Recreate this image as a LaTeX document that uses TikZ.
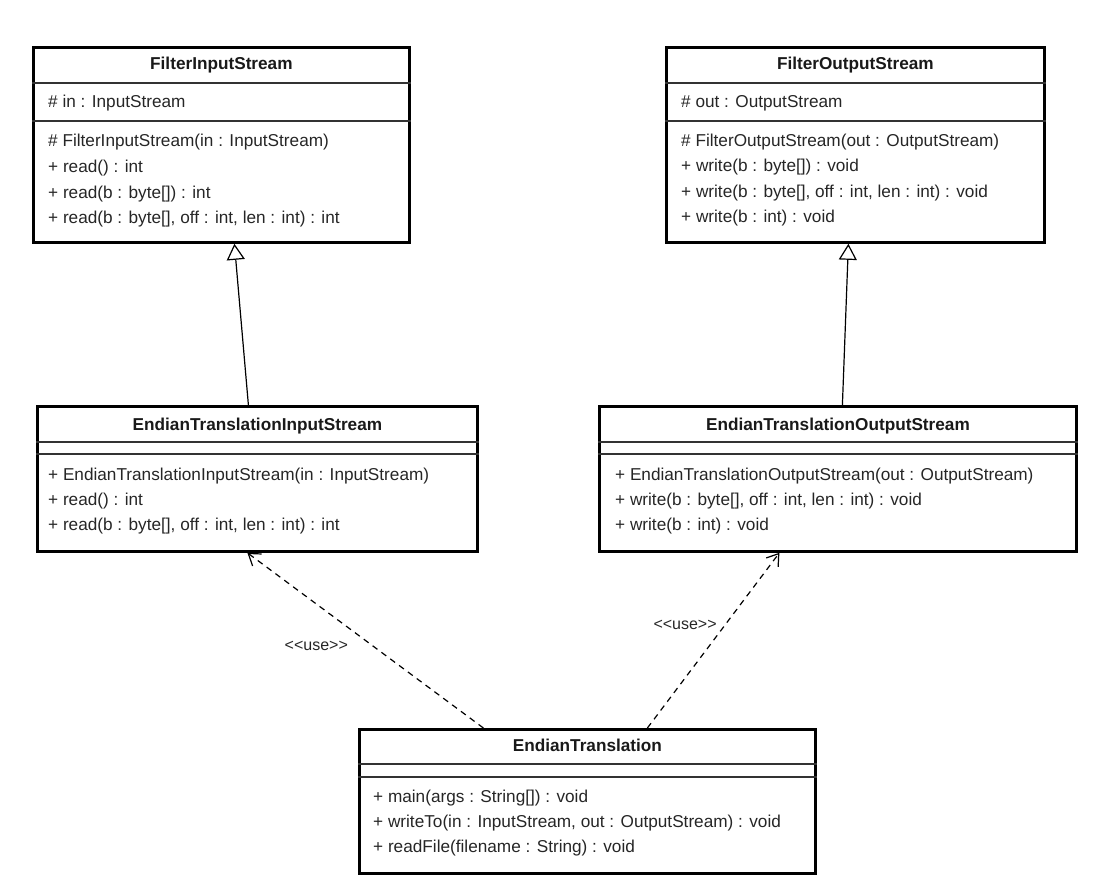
\documentclass[tikz,border=0pt]{standalone}
\usepackage{fontspec}
\setmainfont{Liberation Sans}
\usepackage{tikz}
\usetikzlibrary{calc, arrows.meta}

\tikzset{
classbox/.style={draw, line width=2.8pt, inner sep=0pt, anchor=north west},
divider/.style={draw, black!80, line width=1.4pt},
classname/.style={inner sep=0pt, text height=12.5pt, text depth=3.5pt, text=black!90, font=\fontsize{17.2}{20}\selectfont\bfseries},
member/.style={anchor=west, inner sep=0pt, text height=12.5pt, text depth=3.5pt, text=black!85, font=\fontsize{17.2}{20}\selectfont},
stereo/.style={inner sep=0pt, text=black!85, font=\fontsize{16}{18}\selectfont},
inherit/.style={line width=1.2pt, -{Triangle[open, length=16pt, width=18pt]}},
uses/.style={line width=1.2pt, dash pattern=on 6pt off 5pt, -{Straight Barb[length=11pt, width=15pt]}},
}

\begin{document}
\begin{tikzpicture}[x=1pt, y=-1pt]
\useasboundingbox (0,0) rectangle (1105,889);
					%%
\coordinate (fisNW) at (32,46);
\coordinate (fosNW) at (665,46);
\coordinate (eisNW) at (36,405);
\coordinate (eosNW) at (598,405);
\coordinate (etNW) at (358,728);

\node[classbox, minimum width=376pt, minimum height=195pt] (fis) at (fisNW) {};
\node[classbox, minimum width=378pt, minimum height=195pt] (fos) at (fosNW) {};
\node[classbox, minimum width=440pt, minimum height=145pt] (eis) at (eisNW) {};
\node[classbox, minimum width=477pt, minimum height=145pt] (eos) at (eosNW) {};
\node[classbox, minimum width=456pt, minimum height=144pt] (et) at (etNW) {};

\foreach \c/\a/\b in {fis/37/75, fos/37/75, eis/37/49, eos/37/49, et/36/49}
{
\draw[divider] ($(\c.north west)+(0,\a)$) -- ($(\c.north east)+(0,\a)$);
\draw[divider] ($(\c.north west)+(0,\b)$) -- ($(\c.north east)+(0,\b)$);
}

\node[classname] (fisName) at ($(fis.north)+(0,19)$) {FilterInputStream};
\node[classname] (fosName) at ($(fos.north)+(0,19)$) {FilterOutputStream};
\node[classname] (eisName) at ($(eis.north)+(0,21)$) {EndianTranslationInputStream};
\node[classname] (eosName) at ($(eos.north)+(0,21)$) {EndianTranslationOutputStream};
\node[classname] (etName) at ($(et.north)+(0,19)$) {EndianTranslation};

\node[member] (fisIn) at ($(fis.north west)+(16,57)$) {\# in : InputStream};
\node[member] (fosOut) at ($(fos.north west)+(16,57)$) {\# out : OutputStream};

\foreach \t [count=\i from 0] in {{\# FilterInputStream(in : InputStream)}, {+ read() : int}, {+ read(b : byte[]) : int}, {+ read(b : byte[], off : int, len : int) : int}}
\node[member] (fisOp\i) at ($(fis.north west)+(16,96+25.8*\i)$) {\t};

\foreach \t [count=\i from 0] in {{\# FilterOutputStream(out : OutputStream)}, {+ write(b : byte[]) : void}, {+ write(b : byte[], off : int, len : int) : void}, {+ write(b : int) : void}}
\node[member] (fosOp\i) at ($(fos.north west)+(16,96+25.3*\i)$) {\t};

\foreach \t [count=\i from 0] in {{+ EndianTranslationInputStream(in : InputStream)}, {+ read() : int}, {+ read(b : byte[], off : int, len : int) : int}}
\node[member] (eisOp\i) at ($(eis.north west)+(12,71+25*\i)$) {\t};

\foreach \t [count=\i from 0] in {{+ EndianTranslationOutputStream(out : OutputStream)}, {+ write(b : byte[], off : int, len : int) : void}, {+ write(b : int) : void}}
\node[member] (eosOp\i) at ($(eos.north west)+(17,71+25*\i)$) {\t};

\foreach \t [count=\i from 0] in {{+ main(args : String[]) : void}, {+ writeTo(in : InputStream, out : OutputStream) : void}, {+ readFile(filename : String) : void}}
\node[member] (etOp\i) at ($(et.north west)+(15,70+25*\i)$) {\t};

\draw[inherit] ([xshift=-9pt]eis.north) -- ([xshift=13pt]fis.south);
\draw[inherit] ([xshift=4.5pt]eos.north) -- ([xshift=-7pt]fos.south);

\draw[uses] ([xshift=-104pt]et.north) -- node[stereo, pos=0.47, left=24pt] (useIn) {<\kern0pt<use>\kern0pt>} ([xshift=-10pt]eis.south);
\draw[uses] ([xshift=60pt]et.north) -- node[stereo, pos=0.59, left=8pt] (useOut) {<\kern0pt<use>\kern0pt>} ([xshift=-58.5pt]eos.south);
				\end{tikzpicture}
\end{document}
